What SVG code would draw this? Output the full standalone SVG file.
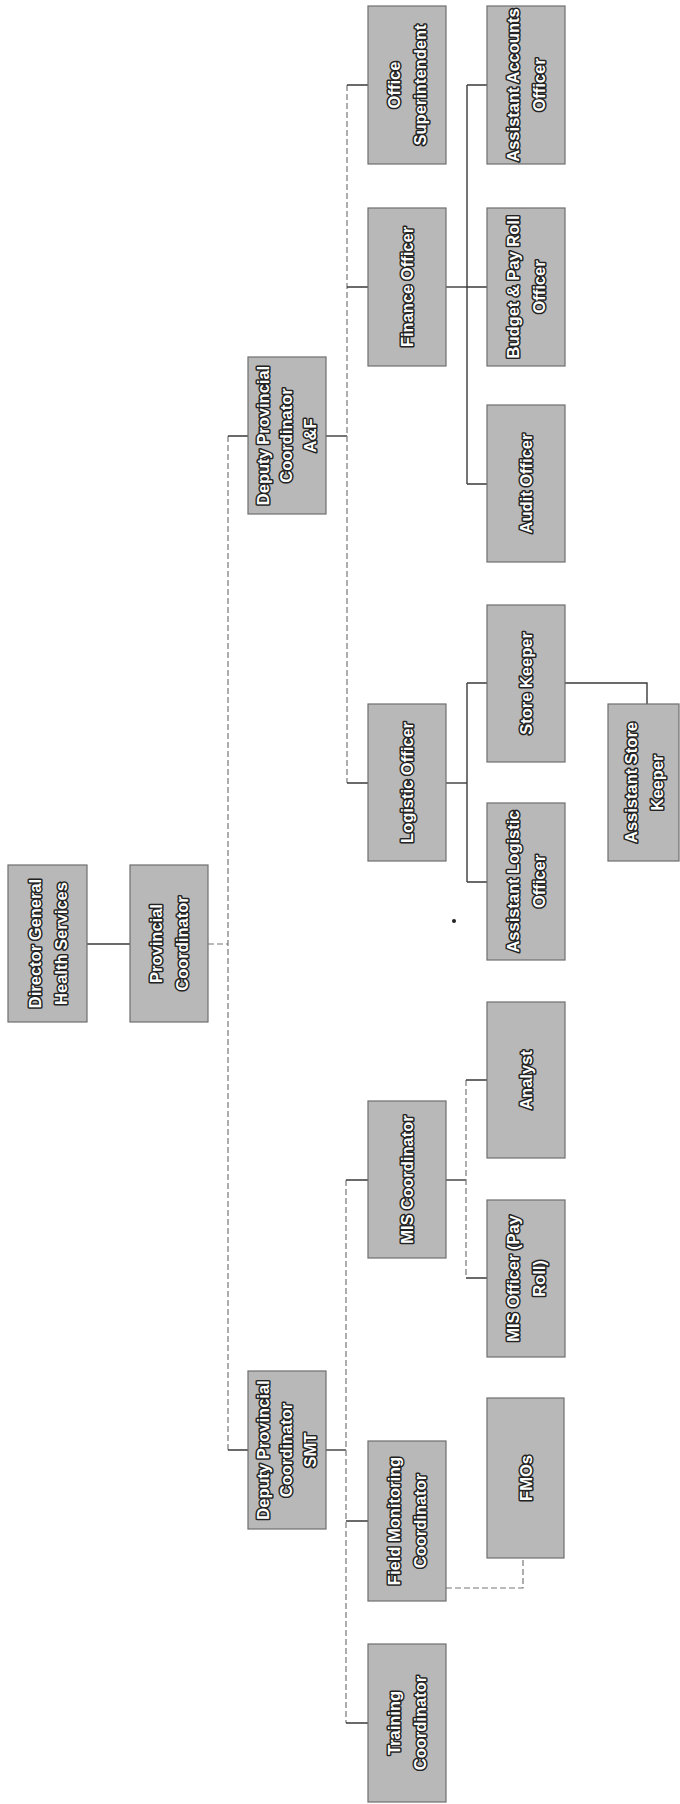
<svg xmlns="http://www.w3.org/2000/svg" width="680" height="1804" viewBox="0 0 680 1804">
<style>
.box{fill:#b8b8b8;stroke:#6e6e6e;stroke-width:1.2}
.t{font-family:"Liberation Sans",Arial,sans-serif;font-weight:bold;font-size:16.5px;fill:#ffffff;stroke:#222222;stroke-width:3;paint-order:stroke;stroke-linejoin:round;text-anchor:middle}
.c{fill:none;stroke:#3a3a3a;stroke-width:1.4}
.cf{fill:none;stroke:#777;stroke-width:1.2;stroke-dasharray:6 3}
</style>
<rect width="680" height="1804" fill="#ffffff"/>
<g id="connectors">
<path class="c" d="M87,944 H130"/>
<path class="cf" d="M208,944 H228"/>
<path class="cf" d="M228,436 V1450"/>
<path class="c" d="M228,436 H248 M228,1450 H248"/>
<path class="c" d="M326,436 H347"/>
<path class="cf" d="M347,85 V783"/>
<path class="c" d="M347,85 H368 M347,287 H368 M347,783 H368"/>
<path class="c" d="M446,287 H467"/>
<path class="c" d="M467,85 V484"/>
<path class="c" d="M467,85 H487 M467,287 H487 M467,484 H487"/>
<path class="c" d="M446,783 H467"/>
<path class="c" d="M467,683 V882"/>
<path class="c" d="M467,683 H487 M467,882 H487"/>
<path class="c" d="M565,683 H647 V704"/>
<path class="c" d="M326,1450 H346"/>
<path class="cf" d="M346,1180 V1723"/>
<path class="c" d="M346,1180 H368 M346,1521 H368 M346,1723 H368"/>
<path class="c" d="M446,1180 H466"/>
<path class="cf" d="M466,1080 V1278"/>
<path class="c" d="M466,1080 H487 M466,1278 H487"/>
<path class="cf" d="M446,1588 H523 V1558"/>
</g>
<g id="dg"><rect class="box" x="8" y="865" width="79" height="157"/><text class="t" transform="translate(47.5,943.5) rotate(-90)"><tspan x="0" y="-7">Director General</tspan><tspan x="0" y="19">Health Services</tspan></text></g>
<g id="pc"><rect class="box" x="130" y="865" width="78" height="157"/><text class="t" transform="translate(169,943.5) rotate(-90)"><tspan x="0" y="-7">Provincial</tspan><tspan x="0" y="19">Coordinator</tspan></text></g>
<g id="dpc-af"><rect class="box" x="248" y="357" width="78" height="157"/><text class="t" transform="translate(287,435.5) rotate(-90)"><tspan x="0" y="-18">Deputy Provincial</tspan><tspan x="0" y="5">Coordinator</tspan><tspan x="0" y="29">A&amp;F</tspan></text></g>
<g id="dpc-smt"><rect class="box" x="248" y="1371" width="78" height="158"/><text class="t" transform="translate(287,1450) rotate(-90)"><tspan x="0" y="-18">Deputy Provincial</tspan><tspan x="0" y="5">Coordinator</tspan><tspan x="0" y="29">SMT</tspan></text></g>
<g id="office-sup"><rect class="box" x="368" y="6" width="78" height="158"/><text class="t" transform="translate(407,85) rotate(-90)"><tspan x="0" y="-7">Office</tspan><tspan x="0" y="19">Superintendent</tspan></text></g>
<g id="finance"><rect class="box" x="368" y="208" width="78" height="158"/><text class="t" transform="translate(407,287) rotate(-90)"><tspan x="0" y="6">Finance Officer</tspan></text></g>
<g id="logistic"><rect class="box" x="368" y="704" width="78" height="157"/><text class="t" transform="translate(407,782.5) rotate(-90)"><tspan x="0" y="6">Logistic Officer</tspan></text></g>
<g id="mis-coord"><rect class="box" x="368" y="1101" width="78" height="157"/><text class="t" transform="translate(407,1179.5) rotate(-90)"><tspan x="0" y="6">MIS Coordinator</tspan></text></g>
<g id="fmc"><rect class="box" x="368" y="1441" width="78" height="160"/><text class="t" transform="translate(407,1521) rotate(-90)"><tspan x="0" y="-7">Field Monitoring</tspan><tspan x="0" y="19">Coordinator</tspan></text></g>
<g id="training"><rect class="box" x="368" y="1644" width="78" height="158"/><text class="t" transform="translate(407,1723) rotate(-90)"><tspan x="0" y="-7">Training</tspan><tspan x="0" y="19">Coordinator</tspan></text></g>
<g id="asst-accounts"><rect class="box" x="487" y="6" width="78" height="158"/><text class="t" transform="translate(526,85) rotate(-90)"><tspan x="0" y="-7">Assistant Accounts</tspan><tspan x="0" y="19">Officer</tspan></text></g>
<g id="budget"><rect class="box" x="487" y="208" width="78" height="158"/><text class="t" transform="translate(526,287) rotate(-90)"><tspan x="0" y="-7">Budget &amp; Pay Roll</tspan><tspan x="0" y="19">Officer</tspan></text></g>
<g id="audit"><rect class="box" x="487" y="405" width="78" height="157"/><text class="t" transform="translate(526,483.5) rotate(-90)"><tspan x="0" y="6">Audit Officer</tspan></text></g>
<g id="store-keeper"><rect class="box" x="487" y="605" width="78" height="157"/><text class="t" transform="translate(526,683.5) rotate(-90)"><tspan x="0" y="6">Store Keeper</tspan></text></g>
<g id="asst-logistic"><rect class="box" x="487" y="803" width="78" height="157"/><text class="t" transform="translate(526,881.5) rotate(-90)"><tspan x="0" y="-7">Assistant Logistic</tspan><tspan x="0" y="19">Officer</tspan></text></g>
<g id="analyst"><rect class="box" x="487" y="1002" width="78" height="156"/><text class="t" transform="translate(526,1080) rotate(-90)"><tspan x="0" y="6">Analyst</tspan></text></g>
<g id="mis-officer"><rect class="box" x="487" y="1200" width="78" height="157"/><text class="t" transform="translate(526,1278.5) rotate(-90)"><tspan x="0" y="-7">MIS Officer (Pay</tspan><tspan x="0" y="19">Roll)</tspan></text></g>
<g id="fmos"><rect class="box" x="487" y="1398" width="77" height="160"/><text class="t" transform="translate(525.5,1478) rotate(-90)"><tspan x="0" y="6">FMOs</tspan></text></g>
<g id="asst-store"><rect class="box" x="608" y="704" width="71" height="157"/><text class="t" transform="translate(643.5,782.5) rotate(-90)"><tspan x="0" y="-7">Assistant Store</tspan><tspan x="0" y="19">Keeper</tspan></text></g>
<circle cx="454" cy="921" r="2" fill="#222"/>
</svg>
